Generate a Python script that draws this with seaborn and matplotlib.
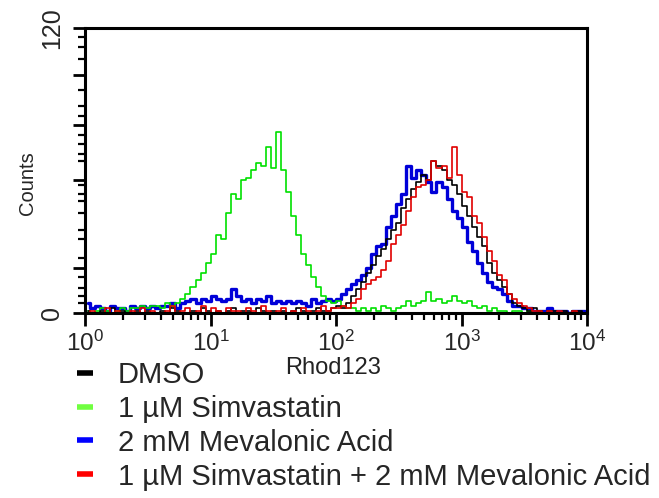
import numpy as np
import pandas as pd
import matplotlib
matplotlib.use("Agg")
import matplotlib.pyplot as plt
from matplotlib.lines import Line2D
from matplotlib.ticker import FixedLocator, LogLocator, NullFormatter
import seaborn as sns

# Rhod123 histograms, 25 channels per decade from 10^0 to 10^4
labels = [
    "DMSO",
    "1 µM Simvastatin",
    "2 mM Mevalonic Acid",
    "1 µM Simvastatin + 2 mM Mevalonic Acid",
]

dmso = [
    1, 0, 0, 1, 0, 2, 0, 1, 0, 0,
    1, 0, 1, 0, 0, 1, 0, 2, 1, 0,
    0, 1, 0, 2, 1, 0, 1, 0, 1, 2,
    0, 1, 1, 0, 2, 1, 0, 1, 0, 1,
    0, 1, 2, 1, 0, 1, 2, 1, 1, 2,
    3, 2, 4, 7, 10, 13, 17, 20, 24, 27,
    31, 35, 38, 44, 48, 52, 55, 58, 56, 64,
    62, 60, 56, 54, 50, 45, 41, 36, 32, 28,
    21, 17, 14, 11, 8, 4, 3, 2, 1, 2,
    1, 0, 1, 1, 0, 1, 0, 1, 1, 0,
]

simvastatin = [
    1, 0, 1, 2, 1, 0, 1, 2, 1, 2,
    2, 3, 2, 3, 3, 2, 4, 3, 4, 6,
    8, 11, 14, 17, 21, 25, 33, 31, 42, 50,
    48, 56, 57, 60, 63, 62, 70, 61, 76, 60,
    51, 41, 33, 25, 20, 15, 11, 7, 5, 4,
    5, 3, 2, 2, 1, 2, 1, 2, 1, 3,
    2, 1, 2, 3, 5, 3, 4, 5, 9, 5,
    6, 4, 5, 7, 5, 4, 5, 3, 2, 3,
    1, 2, 1, 1, 0, 1, 1, 0, 1, 0,
    0, 0, 0, 0, 0, 0, 0, 0, 0, 0,
]

mevalonic = [
    4, 2, 3, 2, 1, 3, 2, 2, 1, 3,
    2, 3, 2, 3, 2, 3, 3, 4, 2, 4,
    5, 6, 4, 6, 5, 7, 6, 5, 6, 10,
    7, 5, 6, 4, 6, 5, 7, 4, 5, 4,
    5, 4, 5, 4, 3, 6, 4, 5, 6, 5,
    6, 8, 10, 12, 14, 16, 19, 25, 28, 29,
    36, 41, 46, 50, 62, 57, 60, 58, 55, 51,
    55, 53, 48, 43, 40, 36, 30, 26, 21, 17,
    13, 11, 10, 8, 5, 3, 3, 2, 2, 1,
    1, 1, 2, 1, 1, 1, 0, 1, 1, 1,
]

combined = [
    0, 1, 0, 0, 2, 0, 1, 0, 0, 1,
    0, 2, 0, 1, 0, 0, 1, 3, 0, 1,
    2, 0, 1, 3, 0, 2, 1, 0, 2, 1,
    1, 0, 2, 1, 0, 3, 1, 0, 1, 2,
    0, 1, 0, 2, 1, 0, 1, 3, 1, 2,
    2, 3, 2, 4, 6, 10, 12, 14, 15, 18,
    22, 29, 33, 37, 43, 49, 53, 54, 56, 64,
    61, 62, 57, 70, 58, 51, 49, 41, 38, 32,
    26, 22, 16, 14, 8, 6, 4, 3, 2, 1,
    1, 0, 1, 0, 1, 0, 0, 1, 0, 0,
]

channels_per_decade = 25
channel = 10 ** ((np.arange(len(dmso)) + 0.5) / channels_per_decade)

series = {
    labels[0]: dmso,
    labels[1]: simvastatin,
    labels[2]: mevalonic,
    labels[3]: combined,
}
line_colors = {
    labels[0]: "#000000",
    labels[1]: "#00e000",
    labels[2]: "#0000d8",
    labels[3]: "#e00000",
}
legend_colors = ["#000000", "#70ff40", "#0000ff", "#ff0000"]
line_widths = {labels[0]: 1.2, labels[1]: 1.2, labels[2]: 2.4, labels[3]: 1.2}
draw_order = [labels[2], labels[1], labels[0], labels[3]]

sns.set_style("ticks")
plt.rcParams["font.family"] = ["Liberation Sans", "DejaVu Sans"]
plt.rcParams["mathtext.fontset"] = "custom"
plt.rcParams["mathtext.rm"] = "Liberation Sans"
plt.rcParams["mathtext.it"] = "Liberation Sans:italic"
plt.rcParams["mathtext.bf"] = "Liberation Sans:bold"

fig = plt.figure(figsize=(6.59, 4.98), dpi=100)
ax = fig.add_axes([0.129, 0.3715, 0.7618, 0.5723])

for name in draw_order:
    df = pd.DataFrame({"Rhod123": channel, "Counts": series[name]})
    sns.lineplot(data=df, x="Rhod123", y="Counts", ax=ax, estimator=None,
                 color=line_colors[name], lw=line_widths[name],
                 drawstyle="steps-mid", legend=False)

ax.set_xscale("log")
ax.set_xlim(1, 1e4)
ax.set_ylim(0, 120)

ax.xaxis.set_major_locator(FixedLocator([1, 10, 100, 1000, 10000]))
ax.set_xticklabels([r"$\mathregular{10^{%d}}$" % k for k in range(5)], fontsize=17.5)
ax.xaxis.set_minor_locator(LogLocator(base=10, subs=np.arange(2, 10)))
ax.xaxis.set_minor_formatter(NullFormatter())

y_major = [0, 19, 56, 79, 100, 120]
y_minor = [4, 7, 10.5, 15, 23, 31, 35, 42, 47, 50, 54, 64, 67, 71, 75,
           83, 87, 94, 107, 112, 116]
ax.yaxis.set_major_locator(FixedLocator(y_major))
ax.yaxis.set_minor_locator(FixedLocator(y_minor))
ax.set_yticklabels(["0", "", "", "", "", "120"], rotation=90, va="center",
                   fontsize=18)

ax.tick_params(which="major", length=9, width=2, direction="out", color="black")
ax.tick_params(which="minor", length=5, width=1.6, direction="out", color="black")
ax.tick_params(axis="x", which="major", pad=4)
ax.tick_params(axis="y", which="major", pad=6)
for side in ["left", "right", "top", "bottom"]:
    ax.spines[side].set_visible(True)
    ax.spines[side].set_linewidth(2.2)
    ax.spines[side].set_color("black")
ax.set_xlabel("")
ax.set_ylabel("")

fig.text(333 / 659, 1 - 368 / 498, "Rhod123", ha="center", va="center",
         fontsize=17, color="#222222")
fig.text(27 / 659, 1 - 183 / 498, "Counts", ha="center", va="center",
         rotation=90, fontsize=14.5)

handles = [Line2D([0], [0], color=c, lw=4, solid_capstyle="butt")
           for c in legend_colors]
fig.legend(handles, labels, loc="upper left",
           bbox_to_anchor=(77 / 659, 1 - 361 / 498), frameon=False,
           fontsize=21, handlelength=0.55, handletextpad=0.85,
           labelspacing=0.2, borderpad=0, borderaxespad=0)

fig.savefig("out.png", dpi=100)
